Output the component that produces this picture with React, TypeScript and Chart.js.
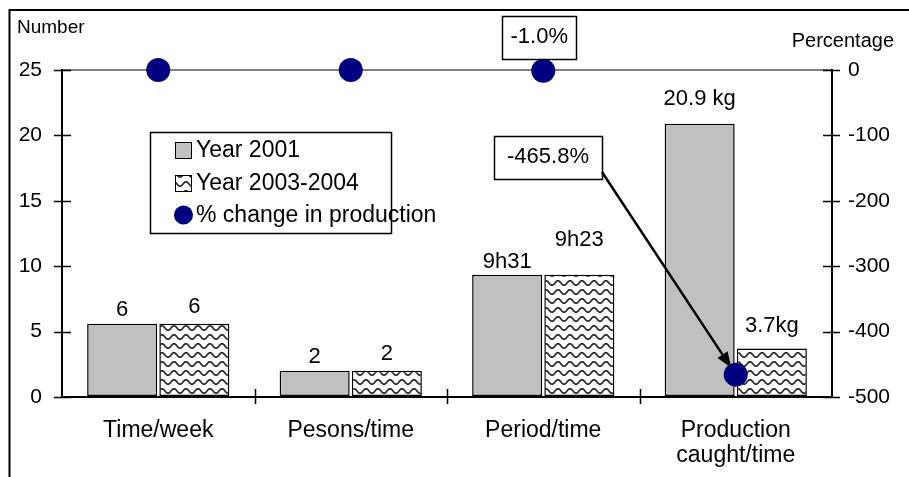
import React, { useEffect, useRef } from 'react';
import { Chart, registerables } from 'chart.js';

Chart.register(...registerables);

// ---- data ----
const categories: string[][] = [['Time/week'], ['Pesons/time'], ['Period/time'], ['Production', 'caught/time']];
const year2001: number[] = [5.6, 2.0, 9.35, 20.9];
const year2003: number[] = [5.6, 2.0, 9.35, 3.7];
const pctChange: number[] = [0, 0, -1.0, -465.8];
const labels2001: string[] = ['6', '2', '9h31', '20.9 kg'];
const labels2003: string[] = ['6', '2', '9h23', '3.7kg'];
const seriesNames: string[] = ['Year 2001', 'Year 2003-2004', '% change in production'];
const leftAxisTitle = 'Number';
const rightAxisTitle = 'Percentage';
const leftRange = { min: 0, max: 25, step: 5 };
const rightRange = { min: -500, max: 0, step: 100 };

// ---- style ----
const FONT = '"Liberation Sans", Arial, Helvetica, sans-serif';
const GREY = '#c0c0c0';
const NAVY = '#000080';
const labelOffsets = [
  [14, 14, 13, 25],
  [17, 17, 35, 23],
];

function makeWave(): CanvasPattern | string {
  const c = document.createElement('canvas');
  c.width = 12;
  c.height = 9;
  const g = c.getContext('2d');
  if (!g) return '#fff';
  g.fillStyle = '#ffffff';
  g.fillRect(0, 0, 12, 9);
  g.strokeStyle = '#2a2a2a';
  g.lineWidth = 1.7;
  g.beginPath();
  for (let x = 0; x <= 12; x += 0.5) {
    const y = 4 + 2.2 * Math.cos((2 * Math.PI * x) / 12);
    if (x === 0) g.moveTo(x, y);
    else g.lineTo(x, y);
  }
  g.stroke();
  const p = g.createPattern(c, 'repeat');
  return p || '#fff';
}

const decorPlugin = {
  id: 'decor',
  afterDatasetsDraw(chart: any) {
    const ctx: CanvasRenderingContext2D = chart.ctx;
    const xs = chart.scales.x;
    const y = chart.scales.y;
    const y1 = chart.scales.y1;
    const area = chart.chartArea;
    ctx.save();

    // outer frame (only top and left edges visible)
    ctx.strokeStyle = '#000';
    ctx.lineWidth = 2;
    ctx.beginPath();
    ctx.moveTo(9.5, 477);
    ctx.lineTo(9.5, 10);
    ctx.lineTo(909, 10);
    ctx.stroke();

    // cross ticks
    ctx.lineWidth = 1.5;
    ctx.strokeStyle = '#000';
    ctx.beginPath();
    for (let v = leftRange.min; v <= leftRange.max; v += leftRange.step) {
      const py = Math.round(y.getPixelForValue(v)) + 0.5;
      ctx.moveTo(area.left - 8, py);
      ctx.lineTo(area.left + 9, py);
    }
    for (let v = rightRange.min; v <= rightRange.max; v += rightRange.step) {
      const py = Math.round(y1.getPixelForValue(v)) + 0.5;
      ctx.moveTo(area.right - 9, py);
      ctx.lineTo(area.right + 8, py);
    }
    for (let i = 0; i < categories.length - 1; i++) {
      const px = Math.round((xs.getPixelForValue(i) + xs.getPixelForValue(i + 1)) / 2) + 0.5;
      ctx.moveTo(px, area.bottom - 8);
      ctx.lineTo(px, area.bottom + 7);
    }
    ctx.stroke();

    // axis titles
    ctx.fillStyle = '#000';
    ctx.textBaseline = 'middle';
    ctx.font = `19px ${FONT}`;
    ctx.textAlign = 'left';
    ctx.fillText(leftAxisTitle, 17, 28);
    ctx.font = `20px ${FONT}`;
    ctx.textAlign = 'right';
    ctx.fillText(rightAxisTitle, 894, 41);

    // data labels above bars
    ctx.font = `22px ${FONT}`;
    ctx.textAlign = 'center';
    [labels2001, labels2003].forEach((lbls, di) => {
      const meta = chart.getDatasetMeta(di);
      meta.data.forEach((bar: any, i: number) => {
        ctx.fillText(lbls[i], bar.x, bar.y - labelOffsets[di][i]);
      });
    });

    // legend box
    const lx = 150, ly = 132, lw = 241, lh = 101;
    ctx.fillStyle = '#fff';
    ctx.fillRect(lx, ly, lw, lh);
    ctx.lineWidth = 1.5;
    ctx.strokeStyle = '#000';
    ctx.strokeRect(lx + 0.5, ly + 0.5, lw, lh);
    const rows = [150, 183, 215];
    ctx.fillStyle = GREY;
    ctx.fillRect(175, rows[0] - 8, 17, 17);
    ctx.lineWidth = 1;
    ctx.strokeRect(175.5, rows[0] - 7.5, 16, 16);
    ctx.fillStyle = chart.data.datasets[1].backgroundColor;
    ctx.fillRect(175, rows[1] - 8, 17, 17);
    ctx.strokeRect(175.5, rows[1] - 7.5, 16, 16);
    ctx.fillStyle = NAVY;
    ctx.beginPath();
    ctx.arc(183.5, rows[2], 9.5, 0, Math.PI * 2);
    ctx.fill();
    ctx.fillStyle = '#000';
    ctx.font = `23px ${FONT}`;
    ctx.textAlign = 'left';
    ctx.textBaseline = 'middle';
    seriesNames.forEach((n, i) => ctx.fillText(n, 196, rows[i] + 1));

    // annotation boxes
    const dots = chart.getDatasetMeta(2).data;
    const drawBox = (cx: number, cy: number, w: number, h: number, text: string) => {
      ctx.fillStyle = '#fff';
      ctx.fillRect(cx - w / 2, cy - h / 2, w, h);
      ctx.lineWidth = 1.5;
      ctx.strokeStyle = '#000';
      ctx.strokeRect(Math.round(cx - w / 2) + 0.5, Math.round(cy - h / 2) + 0.5, w, h);
      ctx.fillStyle = '#000';
      ctx.font = `22px ${FONT}`;
      ctx.textAlign = 'center';
      ctx.textBaseline = 'middle';
      ctx.fillText(text, cx, cy);
    };
    const p3 = dots[2];
    drawBox(p3.x - 4, 37, 74, 43, `${pctChange[2].toFixed(1)}%`);
    const bx = 548, by = 157;
    drawBox(bx, by, 108, 43, `${pctChange[3].toFixed(1)}%`);

    // arrow to last point
    const p4 = dots[3];
    const sx = bx + 54, sy = by + 15;
    const dx = p4.x - sx, dy = p4.y - sy;
    const len = Math.sqrt(dx * dx + dy * dy);
    const ux = dx / len, uy = dy / len;
    const tipX = p4.x - ux * 8, tipY = p4.y - uy * 8;
    const headL = 16, headW = 6;
    const baseX = tipX - ux * headL, baseY = tipY - uy * headL;
    ctx.strokeStyle = '#000';
    ctx.lineWidth = 2.5;
    ctx.beginPath();
    ctx.moveTo(sx, sy);
    ctx.lineTo(baseX, baseY);
    ctx.stroke();
    ctx.fillStyle = '#000';
    ctx.beginPath();
    ctx.moveTo(tipX, tipY);
    ctx.lineTo(baseX - uy * headW, baseY + ux * headW);
    ctx.lineTo(baseX + uy * headW, baseY - ux * headW);
    ctx.closePath();
    ctx.fill();

    ctx.restore();
  },
};

export default function App() {
  const ref = useRef<HTMLCanvasElement | null>(null);

  useEffect(() => {
    if (!ref.current) return;
    const wave = makeWave();
    const chart = new Chart(ref.current, {
      type: 'bar',
      data: {
        labels: categories as any,
        datasets: [
          {
            type: 'bar',
            label: seriesNames[0],
            data: year2001,
            yAxisID: 'y',
            backgroundColor: GREY,
            borderColor: '#000',
            borderWidth: 1.5,
            borderSkipped: false,
            categoryPercentage: 0.75,
            barPercentage: 0.97,
            order: 1,
          } as any,
          {
            type: 'bar',
            label: seriesNames[1],
            data: year2003,
            yAxisID: 'y',
            backgroundColor: wave,
            borderColor: '#000',
            borderWidth: 1.5,
            borderSkipped: false,
            categoryPercentage: 0.75,
            barPercentage: 0.97,
            order: 1,
          } as any,
          {
            type: 'line' as any,
            label: seriesNames[2],
            data: pctChange,
            yAxisID: 'y1',
            showLine: false,
            clip: false,
            pointRadius: 12,
            pointHoverRadius: 12,
            pointBackgroundColor: NAVY,
            pointBorderColor: NAVY,
            pointBorderWidth: 0,
            order: 0,
          } as any,
        ],
      },
      options: {
        animation: false,
        responsive: false,
        events: [],
        layout: { padding: { top: 70, left: 0, right: 0, bottom: 0 } },
        plugins: {
          legend: { display: false },
          tooltip: { enabled: false },
          title: { display: false },
        },
        scales: {
          x: {
            offset: true,
            grid: {
              display: true,
              offset: true,
              drawOnChartArea: false,
              color: 'rgba(0,0,0,0)',
              tickLength: 8,
            },
            border: { display: true, color: '#000', width: 2 },
            ticks: {
              color: '#000',
              font: { family: FONT, size: 23, lineHeight: 1.1 },
              padding: 13,
              maxRotation: 0,
              autoSkip: false,
            },
            afterFit: (s: any) => {
              s.height = 80;
            },
          },
          y: {
            position: 'left',
            min: leftRange.min,
            max: leftRange.max,
            ticks: {
              stepSize: leftRange.step,
              color: '#000',
              font: { family: FONT, size: 21 },
              padding: 12,
            },
            grid: {
              display: true,
              drawOnChartArea: true,
              tickLength: 8,
              lineWidth: 2,
              tickColor: 'rgba(0,0,0,0)',
              color: (c: any) => (c.tick && c.tick.value === leftRange.max ? '#808080' : 'rgba(0,0,0,0)'),
            },
            border: { display: true, color: '#000', width: 2 },
            afterFit: (s: any) => {
              s.width = 62;
            },
          },
          y1: {
            position: 'right',
            min: rightRange.min,
            max: rightRange.max,
            ticks: {
              stepSize: rightRange.step,
              color: '#000',
              font: { family: FONT, size: 21 },
              padding: 8,
            },
            grid: {
              display: true,
              drawOnChartArea: false,
              tickLength: 8,
              color: 'rgba(0,0,0,0)',
            },
            border: { display: true, color: '#000', width: 2 },
            afterFit: (s: any) => {
              s.width = 77;
            },
          },
        },
      } as any,
      plugins: [decorPlugin],
    });
    return () => chart.destroy();
  }, []);

  return (
    <div style={{ position: 'absolute', left: 0, top: 0, width: 909, height: 477, background: '#fff' }}>
      <canvas ref={ref} width={909} height={477} style={{ display: 'block' }} />
    </div>
  );
}
